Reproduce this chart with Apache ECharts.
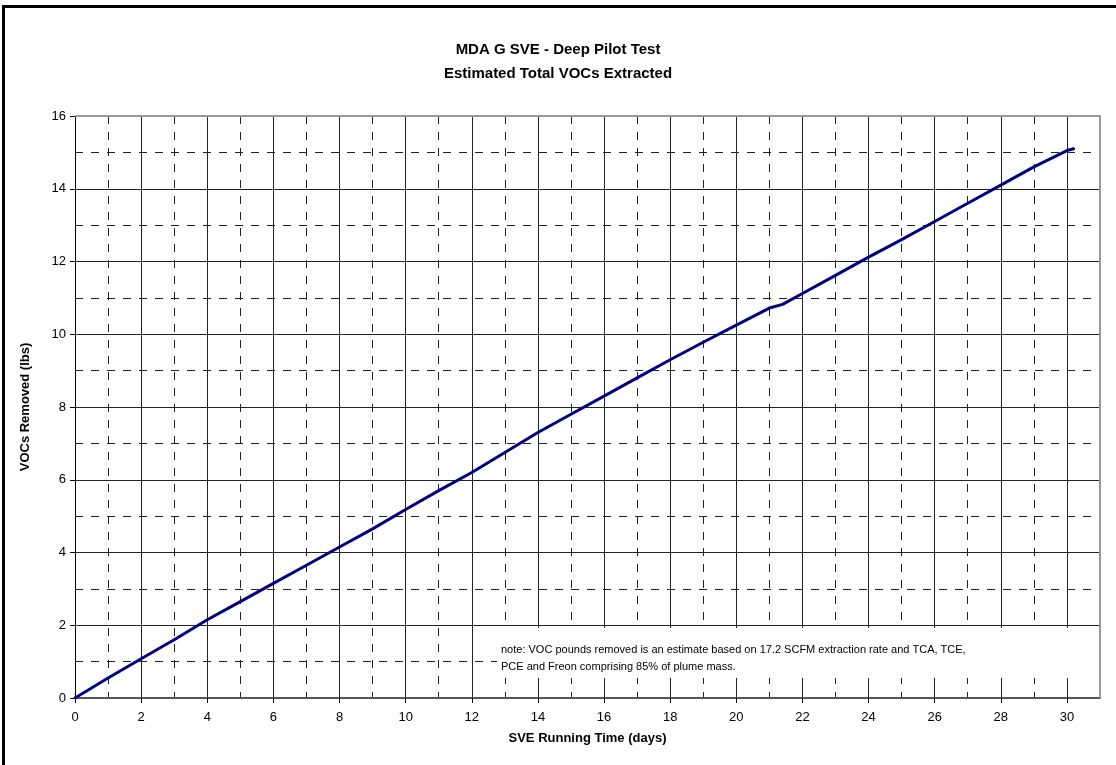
<!DOCTYPE html>
<html>
<head>
<meta charset="utf-8">
<script src="https://cdn.jsdelivr.net/npm/echarts@6/dist/echarts.min.js"></script>
<style>
  html, body { margin: 0; padding: 0; background: #fff; }
  #chart { width: 1116px; height: 765px; }
</style>
</head>
<body>
<div id="chart"></div>
<script>
// SVE running time (days)
const days = [0, 1, 2, 3, 4, 5, 6, 7, 8, 9, 10, 11, 12, 13, 14, 15, 16, 17, 18, 19, 20, 21, 21.4, 22, 23, 24, 25, 26, 27, 28, 29, 30, 30.2];
// cumulative VOCs removed (lbs)
const vocs = [0, 0.55, 1.08, 1.6, 2.15, 2.65, 3.15, 3.65, 4.15, 4.65, 5.18, 5.7, 6.2, 6.75, 7.3, 7.8, 8.3, 8.8, 9.3, 9.78, 10.25, 10.72, 10.82, 11.12, 11.62, 12.12, 12.6, 13.1, 13.6, 14.1, 14.6, 15.05, 15.1];

const titleLines = ['MDA G SVE - Deep Pilot Test', 'Estimated Total VOCs Extracted'];
const noteLines = [
  'note: VOC pounds removed is an estimate based on 17.2 SCFM extraction rate and TCA, TCE,',
  'PCE and Freon comprising 85% of plume mass.'
];

const chart = echarts.init(document.getElementById('chart'));
const font = '"Liberation Sans", Arial, sans-serif';

const seriesData = days.map((d, i) => [d, vocs[i]]);

const option = {
  animation: false,
  backgroundColor: '#fff',
  textStyle: { fontFamily: font },
  title: {
    text: titleLines.join('\n'),
    left: 'center',
    top: 33,
    textStyle: { fontSize: 15, fontWeight: 'bold', color: '#000', lineHeight: 24, fontFamily: font }
  },
  grid: { left: 75, right: 16, top: 116, bottom: 67 },
  xAxis: [
    {
      type: 'value', min: 0, max: 31, interval: 2,
      name: 'SVE Running Time (days)', nameLocation: 'middle', nameGap: 34,
      nameTextStyle: { fontSize: 13, fontWeight: 'bold', color: '#000', fontFamily: font },
      axisLine: { show: true, lineStyle: { color: '#555', width: 2 } },
      axisTick: { show: true, length: 5, lineStyle: { color: '#000' } },
      axisLabel: { fontSize: 13, color: '#000', margin: 13, showMaxLabel: false,
        formatter: v => (v > 30 ? '' : String(v)) },
      splitLine: { show: true, lineStyle: { color: '#222', width: 1 } }
    },
    {
      type: 'value', min: 0, max: 31, interval: 1, position: 'bottom',
      axisLine: { show: false }, axisTick: { show: false }, axisLabel: { show: false },
      splitLine: { show: true, lineStyle: { color: '#222', width: 1, type: [8, 8] } }
    }
  ],
  yAxis: [
    {
      type: 'value', min: 0, max: 16, interval: 2,
      name: 'VOCs Removed (lbs)', nameLocation: 'middle', nameGap: 43, nameRotate: 90,
      nameTextStyle: { fontSize: 13, fontWeight: 'bold', color: '#000', fontFamily: font },
      axisLine: { show: true, lineStyle: { color: '#000', width: 1 } },
      axisTick: { show: true, length: 5, lineStyle: { color: '#000' } },
      axisLabel: { fontSize: 13, color: '#000', margin: 9 },
      splitLine: { show: true, lineStyle: { color: '#222', width: 1 } }
    },
    {
      type: 'value', min: 0, max: 16, interval: 1, position: 'left',
      axisLine: { show: false }, axisTick: { show: false }, axisLabel: { show: false },
      splitLine: { show: true, lineStyle: { color: '#222', width: 1, type: [8, 8] } }
    }
  ],
  graphic: [
    // outer frame
    { type: 'rect', shape: { x: 3.5, y: 6.5, width: 1200, height: 900 },
      style: { fill: null, stroke: '#000', lineWidth: 3 }, silent: true },
    // top and right plot borders
    { type: 'polyline', shape: { points: [[75, 116], [1100, 116], [1100, 698]] },
      style: { fill: null, stroke: '#999', lineWidth: 2 }, z: 5 },
    // note box
    { type: 'rect', shape: { x: 497, y: 628, width: 594, height: 50 },
      style: { fill: '#fff', stroke: null }, z: 10 },
    { type: 'text', x: 501, y: 641,
      style: { text: noteLines.join('\n'), fontSize: 11, lineHeight: 17, fill: '#000', fontFamily: font }, z: 11 }
  ],
  series: [
    {
      type: 'line', xAxisIndex: 0, yAxisIndex: 0,
      data: seriesData, showSymbol: false, smooth: false, z: 20,
      lineStyle: { color: '#000080', width: 3, join: 'round', cap: 'round' }
    }
  ]
};

chart.setOption(option);
</script>
</body>
</html>
